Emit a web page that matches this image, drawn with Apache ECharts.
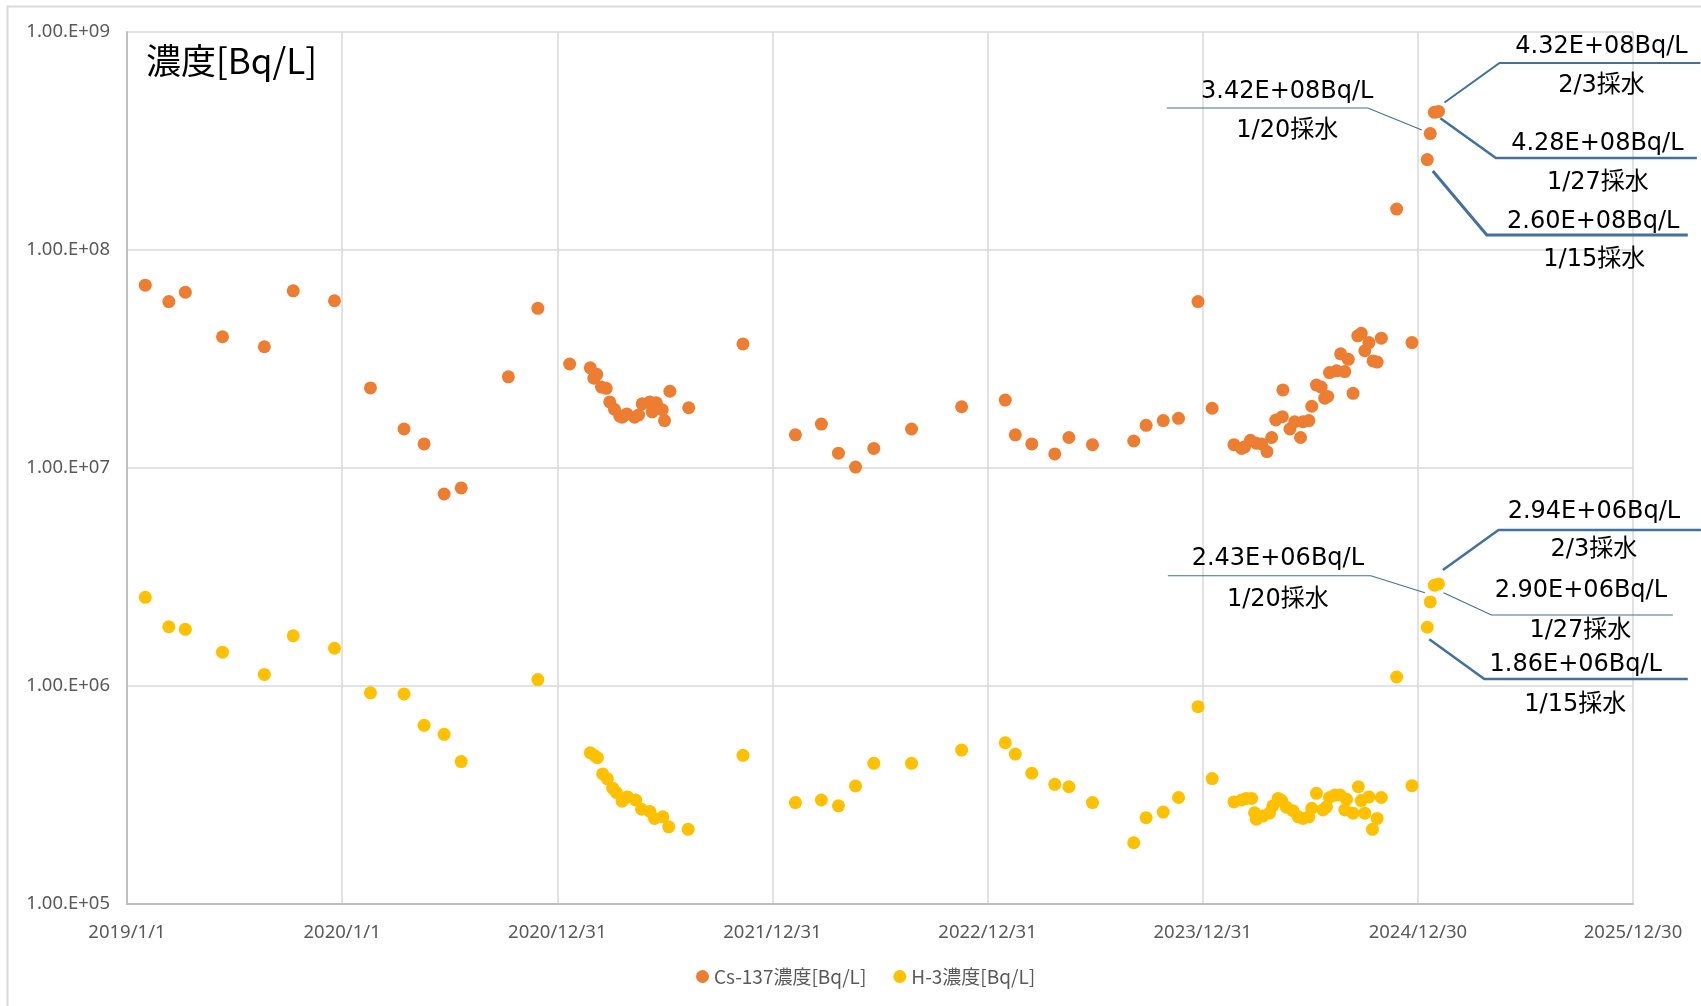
<!DOCTYPE html>
<html>
<head>
<meta charset="utf-8">
<script src="https://cdn.jsdelivr.net/npm/echarts@6/dist/echarts.min.js"></script>
<style>
  html, body { margin: 0; padding: 0; background: #fff; }
  #chart { width: 1701px; height: 1006px; }
</style>
</head>
<body>
<div id="chart"></div>
<script>
// Sampling dates and concentrations [Bq/L]
const csDates = [
  '2019/2/1','2019/3/13','2019/4/10','2019/6/12','2019/8/22','2019/10/10','2019/12/19',
  '2020/2/18','2020/4/15','2020/5/19','2020/6/22','2020/7/21','2020/10/9','2020/11/28',
  '2021/1/21','2021/2/25','2021/3/3','2021/3/8','2021/3/16','2021/3/24','2021/3/30','2021/4/7',
  '2021/4/16','2021/4/20','2021/4/28','2021/5/11','2021/5/18','2021/5/24','2021/6/6','2021/6/10',
  '2021/6/17','2021/6/27','2021/7/1','2021/7/10','2021/8/11','2021/11/11',
  '2022/2/8','2022/3/24','2022/4/22','2022/5/21','2022/6/21','2022/8/24','2022/11/17',
  '2023/1/30','2023/2/16','2023/3/16','2023/4/24','2023/5/18','2023/6/27','2023/9/5','2023/9/26',
  '2023/10/25','2023/11/20','2023/12/23','2024/1/16',
  '2024/2/22','2024/3/6','2024/3/11','2024/3/21','2024/3/31','2024/4/9','2024/4/18','2024/4/26',
  '2024/5/3','2024/5/14','2024/5/15','2024/5/27','2024/6/4','2024/6/14','2024/6/18','2024/6/28',
  '2024/7/3','2024/7/11','2024/7/19','2024/7/25','2024/7/30','2024/8/2','2024/8/14','2024/8/21',
  '2024/8/28','2024/9/3','2024/9/11','2024/9/19','2024/9/25','2024/10/1','2024/10/8','2024/10/15',
  '2024/10/22','2024/10/29','2024/11/24','2024/12/20',
  '2025/1/15','2025/1/20','2025/1/27','2025/2/3'
];
const csValues = [
  6.9e7, 5.8e7, 6.4e7, 4.0e7, 3.6e7, 6.5e7, 5.85e7,
  2.33e7, 1.51e7, 1.29e7, 7.6e6, 8.1e6, 2.62e7, 5.4e7,
  3.0e7, 2.88e7, 2.58e7, 2.69e7, 2.35e7, 2.32e7, 2.01e7, 1.86e7,
  1.73e7, 1.71e7, 1.77e7, 1.71e7, 1.75e7, 1.97e7, 2.01e7, 1.81e7,
  1.99e7, 1.85e7, 1.65e7, 2.25e7, 1.89e7, 3.71e7,
  1.42e7, 1.59e7, 1.17e7, 1.01e7, 1.23e7, 1.51e7, 1.91e7,
  2.05e7, 1.42e7, 1.29e7, 1.16e7, 1.38e7, 1.28e7, 1.33e7, 1.57e7,
  1.65e7, 1.69e7, 5.8e7, 1.88e7,
  1.28e7, 1.23e7, 1.25e7, 1.34e7, 1.30e7, 1.29e7, 1.19e7, 1.38e7,
  1.66e7, 1.72e7, 2.28e7, 1.51e7, 1.63e7, 1.38e7, 1.63e7, 1.65e7,
  1.92e7, 2.40e7, 2.35e7, 2.09e7, 2.13e7, 2.74e7, 2.79e7, 3.34e7,
  2.77e7, 3.15e7, 2.20e7, 4.04e7, 4.15e7, 3.45e7, 3.76e7, 3.10e7,
  3.06e7, 3.94e7, 1.54e8, 3.76e7,
  2.60e8, 3.42e8, 4.28e8, 4.32e8
];

const h3Dates = [
  '2019/2/1','2019/3/13','2019/4/10','2019/6/12','2019/8/22','2019/10/10','2019/12/19',
  '2020/2/18','2020/4/15','2020/5/19','2020/6/22','2020/7/21','2020/11/28',
  '2021/2/25','2021/3/4','2021/3/9','2021/3/18','2021/3/26','2021/4/4','2021/4/10','2021/4/20',
  '2021/4/29','2021/5/13','2021/5/23','2021/6/6','2021/6/14','2021/6/28','2021/7/8','2021/8/10',
  '2021/11/11','2022/2/8','2022/3/24','2022/4/22','2022/5/21','2022/6/21','2022/8/24','2022/11/17',
  '2023/1/30','2023/2/16','2023/3/16','2023/4/24','2023/5/18','2023/6/27','2023/9/5','2023/9/26',
  '2023/10/25','2023/11/20','2023/12/23','2024/1/16',
  '2024/2/22','2024/3/6','2024/3/14','2024/3/23','2024/3/28','2024/3/31','2024/4/11','2024/4/22',
  '2024/4/28','2024/5/7','2024/5/13','2024/5/21','2024/6/1','2024/6/10','2024/6/18','2024/6/28',
  '2024/7/3','2024/7/11','2024/7/22','2024/7/28','2024/8/2','2024/8/11','2024/8/20','2024/8/28',
  '2024/8/31','2024/9/11','2024/9/20','2024/9/25','2024/10/1','2024/10/8','2024/10/14','2024/10/22',
  '2024/10/29','2024/11/24','2024/12/20',
  '2025/1/15','2025/1/20','2025/1/27','2025/2/3'
];
const h3Values = [
  2.55e6, 1.87e6, 1.82e6, 1.43e6, 1.13e6, 1.70e6, 1.49e6,
  9.3e5, 9.2e5, 6.6e5, 6.0e5, 4.5e5, 1.07e6,
  4.94e5, 4.80e5, 4.69e5, 3.95e5, 3.75e5, 3.40e5, 3.25e5, 2.96e5,
  3.10e5, 3.00e5, 2.72e5, 2.66e5, 2.47e5, 2.51e5, 2.26e5, 2.20e5,
  4.81e5, 2.92e5, 3.00e5, 2.82e5, 3.48e5, 4.42e5, 4.42e5, 5.08e5,
  5.49e5, 4.87e5, 3.98e5, 3.54e5, 3.45e5, 2.92e5, 1.91e5, 2.49e5,
  2.64e5, 3.08e5, 8.04e5, 3.76e5,
  2.94e5, 3.00e5, 3.05e5, 3.05e5, 2.62e5, 2.45e5, 2.53e5, 2.61e5,
  2.82e5, 3.05e5, 2.98e5, 2.78e5, 2.68e5, 2.51e5, 2.47e5, 2.51e5,
  2.75e5, 3.22e5, 2.70e5, 2.79e5, 3.08e5, 3.16e5, 3.16e5, 2.70e5,
  3.02e5, 2.61e5, 3.45e5, 2.98e5, 2.61e5, 3.10e5, 2.20e5, 2.47e5,
  3.08e5, 1.10e6, 3.49e5,
  1.86e6, 2.43e6, 2.90e6, 2.94e6
];

// Axis settings: days counted from 2019/1/1, one tick every 365 days
const axisStart = '2019/1/1';
const xTickStep = 365;
const xTickCount = 7;
const yMin = 1e5;
const yMax = 1e9;

const seriesNames = ['Cs-137濃度[Bq/L]', 'H-3濃度[Bq/L]'];
const seriesColors = ['#ED7D31', '#FFC000'];

// Callouts for the latest samples (offsets in px relative to the point)
const callouts = [
  { s: 0, date: '2025/2/3',  w: 2,   start: [6, -9],   elbow: [61, -48.5],  end: [262, -48.5],  val: [163, -65], day: [163, -26] },
  { s: 0, date: '2025/1/27', w: 2.5, start: [6, 6],    elbow: [61.5, 45.6], end: [262.5, 45.6], val: [163, 31.3],  day: [163.5, 70.3] },
  { s: 0, date: '2025/1/15', w: 3,   start: [5.5, 11.4], elbow: [59.5, 75.4], end: [260.5, 75.4], val: [166, 62.2], day: [167, 100.2] },
  { s: 0, date: '2025/1/20', w: 1.2, start: [-8.4, -3.6], elbow: [-62.4, -25.6], end: [-263.4, -25.6], val: [-143, -41.8], day: [-143, -2.8] },
  { s: 1, date: '2025/2/3',  w: 2.5, start: [4.4, -13.9], elbow: [60, -53.9], end: [262.4, -53.9], val: [155.4, -72], day: [155.4, -34] },
  { s: 1, date: '2025/1/27', w: 1.2, start: [9.2, 7.5], elbow: [57, 29.8], end: [238.5, 29.8], val: [146.5, 5.6], day: [146, 45.1] },
  { s: 1, date: '2025/1/15', w: 2.5, start: [2, 12.1], elbow: [57, 51.8], end: [260.5, 51.8], val: [148.5, 37.6], day: [148, 77.6] },
  { s: 1, date: '2025/1/20', w: 1.2, start: [-5.4, -9.2], elbow: [-59.4, -26.2], end: [-262.4, -26.2], val: [-152.4, -43.1], day: [-152.4, -2.1] }
];

function toUTC(s) {
  const p = s.split('/').map(Number);
  return Date.UTC(p[0], p[1] - 1, p[2]);
}
const t0 = toUTC(axisStart);
function dayOf(s) { return Math.round((toUTC(s) - t0) / 86400000); }
function dateLabel(d) {
  const dt = new Date(t0 + d * 86400000);
  return dt.getUTCFullYear() + '/' + (dt.getUTCMonth() + 1) + '/' + dt.getUTCDate();
}
function pairs(dates, values) { return dates.map((d, i) => [dayOf(d), values[i]]); }
function sciLabel(v) {
  const e = v.toExponential(2).split('e');
  const exp = parseInt(e[1], 10);
  return e[0] + 'E' + (exp < 0 ? '-' : '+') + String(Math.abs(exp)).padStart(2, '0') + 'Bq/L';
}

const seriesDates = [csDates, h3Dates];
const seriesValues = [csValues, h3Values];

const chart = echarts.init(document.getElementById('chart'), null, { renderer: 'canvas' });

const axisLabelStyle = { color: '#595959', fontSize: 18.5, fontFamily: 'Noto Sans, sans-serif' };

chart.setOption({
  backgroundColor: '#ffffff',
  animation: false,
  grid: { left: 127, top: 32, width: 1506, height: 872, containLabel: false },
  xAxis: {
    type: 'value',
    min: 0,
    max: xTickStep * xTickCount,
    interval: xTickStep,
    axisLine: { show: true, lineStyle: { color: '#BFBFBF', width: 2 } },
    axisTick: { show: false },
    axisLabel: Object.assign({ margin: 19, formatter: v => dateLabel(v), showMaxLabel: true }, axisLabelStyle),
    splitLine: { show: true, lineStyle: { color: '#D9D9D9', width: 1.5 } }
  },
  yAxis: {
    type: 'log',
    logBase: 10,
    min: yMin,
    max: yMax,
    splitNumber: 4,
    axisLine: { show: true, lineStyle: { color: '#BFBFBF', width: 2 } },
    axisTick: { show: false },
    axisLabel: Object.assign({
      margin: 17,
      formatter: v => '1.00.E+' + String(Math.round(Math.log10(v))).padStart(2, '0')
    }, axisLabelStyle),
    splitLine: { show: true, lineStyle: { color: '#D9D9D9', width: 1.5 } }
  },
  legend: {
    left: 691,
    top: 962,
    icon: 'circle',
    itemWidth: 13,
    itemHeight: 13,
    itemGap: 27,
    textStyle: { color: '#595959', fontSize: 19, fontFamily: 'Noto Sans CJK JP, sans-serif' },
    data: seriesNames
  },
  series: seriesNames.map((name, i) => ({
    name: name,
    type: 'scatter',
    symbol: 'circle',
    symbolSize: 13,
    itemStyle: { color: seriesColors[i], opacity: 1 },
    emphasis: { disabled: true },
    data: pairs(seriesDates[i], seriesValues[i])
  }))
});

// Frame, heading, and callout lines/texts next to the plotted points
const graphics = [
  {
    type: 'rect', silent: true, z: 0,
    shape: { x: 7.5, y: 6.5, width: 1800, height: 1100 },
    style: { fill: null, stroke: '#D9D9D9', lineWidth: 2 }
  },
  {
    type: 'text', z: 50, x: 146, y: 61,
    style: { text: '濃度[Bq/L]', fill: '#000', font: '35px "Noto Sans CJK JP", sans-serif', verticalAlign: 'middle', align: 'left' }
  }
];
callouts.forEach(c => {
  const idx = seriesDates[c.s].indexOf(c.date);
  const v = seriesValues[c.s][idx];
  const p = chart.convertToPixel({ gridIndex: 0 }, [dayOf(c.date), v]);
  const at = o => [p[0] + o[0], p[1] + o[1]];
  const md = c.date.split('/');
  graphics.push({
    type: 'polyline', z: 40, silent: true,
    shape: { points: [at(c.start), at(c.elbow), at(c.end)] },
    style: { stroke: '#41719C', lineWidth: c.w, fill: null }
  });
  graphics.push({
    type: 'text', z: 50, x: at(c.val)[0], y: at(c.val)[1],
    style: { text: sciLabel(v), fill: '#000', font: '24px "DejaVu Sans", sans-serif', align: 'center', verticalAlign: 'middle' }
  });
  graphics.push({
    type: 'text', z: 50, x: at(c.day)[0], y: at(c.day)[1],
    style: { text: Number(md[1]) + '/' + Number(md[2]) + '採水', fill: '#000', font: '24px "DejaVu Sans", "Noto Sans CJK JP", sans-serif', align: 'center', verticalAlign: 'middle' }
  });
});
chart.setOption({ graphic: graphics });
</script>
</body>
</html>
